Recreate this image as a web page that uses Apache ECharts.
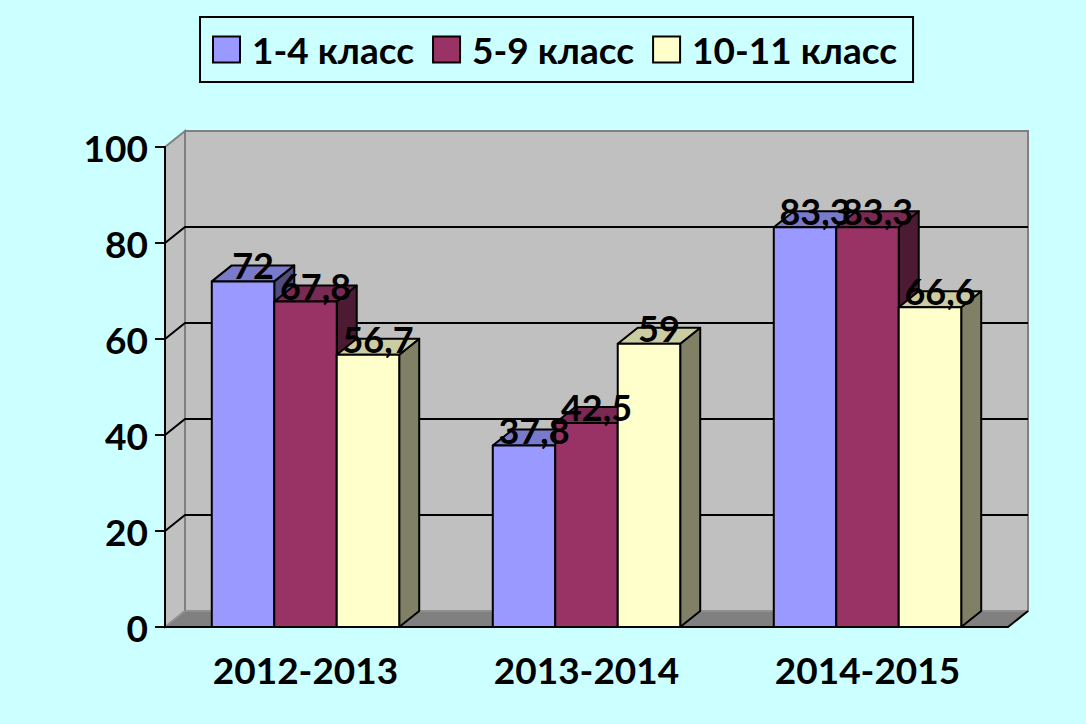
<!DOCTYPE html>
<html>
<head>
<meta charset="utf-8">
<title>Успеваемость по классам</title>
<script src="https://cdn.jsdelivr.net/npm/echarts@6/dist/echarts.min.js"></script>
<style>
html, body { margin: 0; padding: 0; background: #CCFFFF; }
#chart { width: 1086px; height: 724px; }
</style>
</head>
<body>
<div id="chart"></div>
<script>
// data
var years = ['2012-2013', '2013-2014', '2014-2015'];
var names = ['1-4 класс', '5-9 класс', '10-11 класс'];
var grade1_4 = [72, 37.8, 83.3];
var grade5_9 = [67.8, 42.5, 83.3];
var grade10_11 = [56.7, 59, 66.6];
var yTicks = [0, 20, 40, 60, 80, 100];

var values = [grade1_4, grade5_9, grade10_11];

// 3d look
var DX = 20, DY = 16;
var GAP = 0.333;
var FONT = 'Lato, "Open Sans", sans-serif';
var faces = [
	{ front: '#9999FF', top: '#7A7ACC', side: '#4D4D80' },
	{ front: '#993366', top: '#7A2952', side: '#4D1A33' },
	{ front: '#FFFFCC', top: '#CCCCA3', side: '#808066' }
];

function fmt(v) {
	return String(v).replace('.', ',');
}

function barGeom(api, cat, val, k) {
	var c = api.coord([cat, val]);
	var base = api.coord([cat, 0]);
	var bw = api.size([1, 0])[0] * (1 - GAP) / 3;
	var x0 = c[0] - 1.5 * bw + k * bw;
	return { x0: x0, x1: x0 + bw, yt: c[1], yb: base[1] };
}

function barItem(k) {
	return function (params, api) {
		var g = barGeom(api, api.value(0), api.value(1), k);
		var f = faces[k];
		var line = { stroke: '#000', lineWidth: 2, lineJoin: 'round' };
		return {
			type: 'group',
			children: [
				{ type: 'polygon', shape: { points: [[g.x1, g.yt], [g.x1 + DX, g.yt - DY], [g.x1 + DX, g.yb - DY], [g.x1, g.yb]] },
					style: Object.assign({ fill: f.side }, line) },
				{ type: 'polygon', shape: { points: [[g.x0, g.yt], [g.x0 + DX, g.yt - DY], [g.x1 + DX, g.yt - DY], [g.x1, g.yt]] },
					style: Object.assign({ fill: f.top }, line) },
				{ type: 'rect', shape: { x: g.x0, y: g.yt, width: g.x1 - g.x0, height: g.yb - g.yt },
					style: Object.assign({ fill: f.front }, line) }
			]
		};
	};
}

function labelItem(params, api) {
	var k = api.value(1), v = api.value(2);
	var g = barGeom(api, api.value(0), v, k);
	return {
		type: 'text',
		x: (g.x0 + g.x1) / 2 + DX / 2,
		y: g.yt - DY,
		style: { text: fmt(v), fill: '#000', font: 'bold 36px ' + FONT, align: 'center', verticalAlign: 'middle' }
	};
}

function wallItem(params, api) {
	var cs = params.coordSys;
	var L = cs.x, R = cs.x + cs.width, T = cs.y, B = cs.y + cs.height;
	var kids = [
		{ type: 'rect', shape: { x: L + DX, y: T - DY, width: cs.width, height: cs.height },
			style: { fill: '#C0C0C0', stroke: '#808080', lineWidth: 2 } },
		{ type: 'polygon', shape: { points: [[L, T], [L + DX, T - DY], [L + DX, B - DY], [L, B]] },
			style: { fill: '#C0C0C0', stroke: '#808080', lineWidth: 2 } }
	];
	yTicks.slice(1, -1).forEach(function (v) {
		var y = api.coord([0, v])[1];
		kids.push({ type: 'polyline', shape: { points: [[L, y], [L + DX, y - DY], [R + DX, y - DY]] },
			style: { stroke: '#000', lineWidth: 2, fill: null } });
	});
	kids.push({ type: 'polygon', shape: { points: [[L, B], [L + DX, B - DY], [R + DX, B - DY], [R, B]] },
		style: { fill: '#808080', stroke: '#A0A0A0', lineWidth: 1 } });
	kids.push({ type: 'line', shape: { x1: R, y1: B, x2: R + DX, y2: B - DY },
		style: { stroke: '#000', lineWidth: 2 } });
	return { type: 'group', children: kids };
}

var labelData = [];
values.forEach(function (arr, k) {
	arr.forEach(function (v, i) { labelData.push([i, k, v]); });
});

var series = [{
	type: 'custom', name: 'walls', silent: true, z: 1,
	renderItem: wallItem, data: [[0, 0]]
}];
values.forEach(function (arr, k) {
	series.push({
		type: 'custom', name: names[k], z: 2,
		itemStyle: { color: faces[k].front },
		renderItem: barItem(k),
		encode: { x: 0, y: 1 },
		data: arr.map(function (v, i) { return [i, v]; })
	});
});
series.push({
	type: 'custom', name: 'labels', silent: true, z: 3,
	renderItem: labelItem,
	encode: { x: 0, y: 2 },
	data: labelData
});

var chart = echarts.init(document.getElementById('chart'), null, { renderer: 'svg' });
chart.setOption({
	backgroundColor: '#CCFFFF',
	animation: false,
	legend: {
		data: names,
		left: 200,
		top: 17,
		padding: [14, 16, 14, 12],
		itemGap: 18,
		itemWidth: 27,
		itemHeight: 26,
		icon: 'rect',
		borderColor: '#000',
		borderWidth: 2,
		itemStyle: { borderColor: '#000', borderWidth: 2 },
		textStyle: { fontFamily: FONT, fontWeight: 'bold', fontSize: 37, color: '#000', padding: [0, 0, 0, 7] }
	},
	grid: { left: 165, right: 78, top: 147, bottom: 97 },
	xAxis: {
		type: 'category',
		data: years,
		z: 10,
		boundaryGap: true,
		axisLine: { lineStyle: { color: '#000', width: 2 } },
		axisTick: { length: 9, lineStyle: { color: '#000', width: 2 } },
		axisLabel: { margin: 24, fontFamily: FONT, fontWeight: 'bold', fontSize: 37, color: '#000' }
	},
	yAxis: {
		type: 'value',
		min: yTicks[0],
		max: yTicks[yTicks.length - 1],
		interval: yTicks[1] - yTicks[0],
		z: 10,
		axisLine: { show: true, lineStyle: { color: '#000', width: 2 } },
		axisTick: { show: true, length: 10, lineStyle: { color: '#000', width: 2 } },
		splitLine: { show: false },
		axisLabel: { margin: 17, fontFamily: FONT, fontWeight: 'bold', fontSize: 37, color: '#000' }
	},
	series: series
});
</script>
</body>
</html>
